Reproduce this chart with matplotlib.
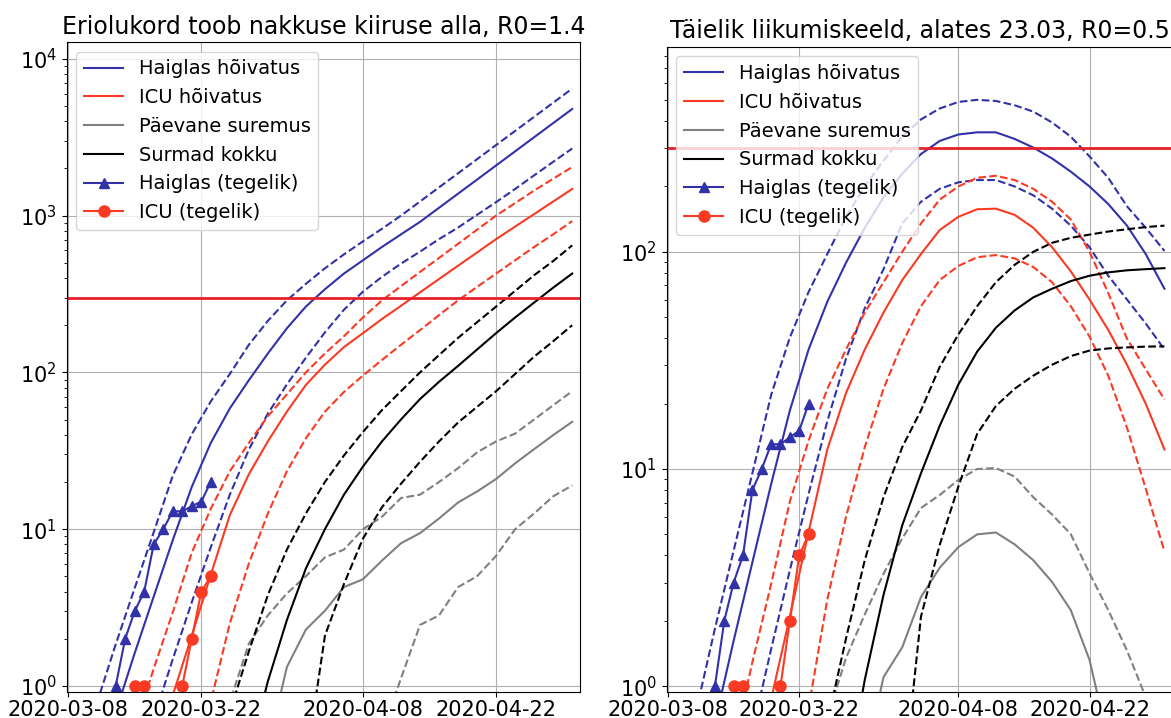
import numpy as np
import matplotlib
matplotlib.use("Agg")
import matplotlib.pyplot as plt
import matplotlib.dates as mdates
from datetime import datetime

# model output dates (every second day, shared by all model curves)
model_dates = np.array(['2020-03-11', '2020-03-13', '2020-03-15', '2020-03-17', '2020-03-19',
                        '2020-03-21', '2020-03-23', '2020-03-25', '2020-03-27', '2020-03-29',
                        '2020-03-31', '2020-04-02', '2020-04-04', '2020-04-06', '2020-04-08',
                        '2020-04-10', '2020-04-12', '2020-04-14', '2020-04-16', '2020-04-18',
                        '2020-04-20', '2020-04-22', '2020-04-24', '2020-04-26', '2020-04-28',
                        '2020-04-30'], dtype='datetime64[D]')

# --- left panel: R0=1.4 ---
hosp_mid_a = [0.28, 0.68, 1.62, 3.72, 8.51, 18.6, 35.5, 58.9, 89.1, 132, 191, 263, 339, 427, 519, 631,
              759, 912, 1122, 1380, 1698, 2089, 2570, 3162, 3890, 4786]
hosp_hi_a = [0.77, 1.84, 4.21, 9.57, 21.9, 40.3, 65.3, 97.7, 150, 213, 288, 367, 461, 566, 685, 824,
             1000, 1230, 1514, 1862, 2291, 2818, 3467, 4266, 5248, 6457]
hosp_lo_a = [0.03, 0.11, 0.26, 0.62, 1.48, 3.42, 7.67, 16.6, 32.2, 54.6, 83.8, 124, 180, 251, 327, 407,
             494, 589, 708, 839, 1012, 1219, 1479, 1807, 2203, 2679]
icu_mid_a = [0.025, 0.063, 0.148, 0.355, 0.871, 2.09, 5.13, 12.3, 22.4, 36.3, 56.2, 83.2, 112, 145, 178,
             219, 266, 324, 394, 479, 582, 708, 851, 1023, 1230, 1479]
icu_hi_a = [0.063, 0.224, 0.537, 1.29, 2.95, 7.08, 13.5, 23.4, 35.5, 52.5, 72.4, 100, 132, 170, 224, 288,
            355, 437, 537, 661, 813, 1000, 1202, 1445, 1718, 2042]
icu_lo_a = [0.01, 0.01, 0.01, 0.01, 0.01, 0.251, 0.794, 2.51, 6.03, 12.6, 23.4, 38.0, 56.2, 75.0, 95.5,
            120, 150, 186, 232, 288, 351, 427, 519, 631, 759, 923]
daily_mid_a = [0.001, 0.001, 0.001, 0.001, 0.001, 0.001, 0.001, 0.01, 0.1, 0.4, 1.32, 2.29, 3.02, 4.27,
               4.79, 6.31, 8.13, 9.44, 11.7, 14.8, 17.4, 20.9, 26.3, 32.4, 39.8, 48.4]
daily_hi_a = [0.001, 0.001, 0.001, 0.01, 0.1, 0.2, 0.32, 0.79, 1.86, 2.82, 3.89, 5.01, 6.61, 7.41, 10, 12,
              15.8, 16.6, 20, 24.5, 30.9, 36.3, 40.7, 50.1, 61.7, 75.9]
daily_lo_a = [0.001, 0.001, 0.001, 0.001, 0.001, 0.001, 0.001, 0.001, 0.001, 0.001, 0.001, 0.001, 0.001,
              0.001, 0.01, 0.5, 1.12, 2.45, 2.82, 4.27, 5.01, 6.76, 10, 12.6, 16.2, 19]
deaths_mid_a = [0.001, 0.001, 0.001, 0.001, 0.001, 0.001, 0.01, 0.126, 0.355, 1.07, 2.63, 5.62, 10, 16.6,
                25.1, 36.3, 50.1, 67.6, 87.1, 110, 140, 178, 224, 279, 347, 427]
deaths_hi_a = [0.001, 0.001, 0.001, 0.001, 0.001, 0.01, 0.25, 0.68, 1.66, 3.8, 7.41, 12.6, 20, 29.5, 41.7,
               57.5, 75.9, 100, 129, 166, 209, 263, 331, 417, 513, 646]
deaths_lo_a = [0.001, 0.001, 0.001, 0.001, 0.001, 0.001, 0.001, 0.001, 0.001, 0.001, 0.01, 0.316, 2.09,
               4.47, 8.71, 13.8, 19.5, 26.9, 36.3, 47.9, 60.3, 75.9, 97.7, 126, 158, 200]

# --- right panel: lockdown from 23.03, R0=0.5 ---
hosp_mid_b = [0.28, 0.68, 1.62, 3.72, 8.51, 18.6, 35.5, 58.9, 89.1, 129, 178, 229, 282, 324, 347, 355,
              355, 331, 302, 269, 234, 200, 166, 132, 97.7, 67.6]
hosp_hi_b = [0.77, 1.84, 4.21, 9.57, 21.9, 40.3, 65.3, 97.7, 145, 200, 263, 339, 407, 457, 490, 501,
             495, 473, 442, 394, 339, 275, 219, 162, 129, 101]
hosp_lo_b = [0.03, 0.11, 0.26, 0.62, 1.48, 3.42, 7.67, 16.6, 32.2, 55, 83.2, 135, 170, 195, 209, 214,
             214, 200, 182, 158, 132, 105, 77.6, 60.3, 46.8, 35.5]
icu_mid_b = [0.025, 0.063, 0.148, 0.355, 0.871, 2.09, 5.13, 12.3, 22.4, 35.5, 52.5, 74.1, 97.7, 126, 145,
             157, 158, 148, 129, 105, 81.3, 60.3, 43.7, 30.2, 20, 12.3]
icu_hi_b = [0.063, 0.224, 0.537, 1.29, 2.95, 7.08, 13.5, 23.4, 35.5, 52.5, 72.4, 100, 135, 174, 200, 219,
            224, 214, 195, 170, 141, 100, 64.6, 39.8, 28.8, 20.9]
icu_lo_b = [0.01, 0.01, 0.01, 0.01, 0.01, 0.251, 0.794, 2.51, 6.03, 12.6, 23.4, 38.0, 56.2, 74.1, 86.1,
            94.4, 96.6, 93.3, 85.1, 72.4, 56.2, 40.7, 26.9, 15.5, 8.13, 4.17]
daily_mid_b = [0.001, 0.001, 0.001, 0.001, 0.001, 0.001, 0.001, 0.01, 0.1, 0.447, 1.1, 1.51, 2.57, 3.51,
               4.37, 5.0, 5.1, 4.5, 3.8, 3.02, 2.24, 1.32, 0.56, 0.2, 0.063, 0.032]
daily_hi_b = [0.001, 0.001, 0.001, 0.01, 0.1, 0.2, 0.32, 0.71, 1.35, 2.14, 3.29, 4.79, 6.61, 7.59, 8.91,
              10, 10.1, 9.23, 7.41, 6.17, 5.01, 3.31, 2.24, 1.46, 0.89, 0.4]
deaths_mid_b = [0.001, 0.001, 0.001, 0.001, 0.001, 0.001, 0.01, 0.126, 0.355, 1.07, 2.63, 5.5, 9.55, 15.8,
                24.5, 34.7, 44.7, 53.7, 61.7, 67.6, 73.3, 77.6, 80.4, 82.2, 83.2, 84.1]
deaths_hi_b = [0.001, 0.001, 0.001, 0.001, 0.001, 0.01, 0.25, 0.68, 1.66, 3.8, 7.41, 12.6, 18.6, 29.5,
               41.7, 56.2, 72.4, 87.1, 100, 110, 116, 120, 124, 127, 130, 132]
deaths_lo_b = [0.001, 0.001, 0.001, 0.001, 0.001, 0.001, 0.001, 0.001, 0.001, 0.001, 0.01, 0.316, 2.09,
               4.47, 8.32, 14.5, 19.5, 23.4, 26.9, 30.2, 33.1, 35.1, 35.9, 36.3, 36.6, 36.7]

# actual counts
hosp_dates = np.array(['2020-03-13', '2020-03-14', '2020-03-15', '2020-03-16', '2020-03-17', '2020-03-18',
                       '2020-03-19', '2020-03-20', '2020-03-21', '2020-03-22', '2020-03-23'], dtype='datetime64[D]')
hosp_actual = [1, 2, 3, 4, 8, 10, 13, 13, 14, 15, 20]
icu_dates = np.array(['2020-03-15', '2020-03-16', '2020-03-17', '2020-03-18', '2020-03-19',
                      '2020-03-20', '2020-03-21', '2020-03-22', '2020-03-23'], dtype='datetime64[D]')
icu_actual = [1, 1, 0, 0, 0, 1, 2, 4, 5]

icu_capacity = 300
tick_dates = [datetime(2020, 3, 8), datetime(2020, 3, 22), datetime(2020, 4, 8), datetime(2020, 4, 22)]

BLUE = '#3232a8'
RED = '#fa3a22'
GRAY = 'gray'
LW = 1.5

plt.rcParams['font.family'] = 'DejaVu Sans'

fig = plt.figure(figsize=(11.71, 7.18), dpi=100)
ax1 = fig.add_axes([66.7 / 1171, 26 / 718, 513.6 / 1171, 650 / 718])
ax2 = fig.add_axes([666.7 / 1171, 26 / 718, 505.7 / 1171, 645.3 / 718])


def draw(ax, hosp, icu, daily, deaths, title, ylim):
    ax.set_yscale('log')
    ax.plot(model_dates, hosp[0], color=BLUE, lw=LW, label='Haiglas hõivatus')
    ax.plot(model_dates, hosp[1], color=BLUE, lw=LW, ls='--')
    ax.plot(model_dates, hosp[2], color=BLUE, lw=LW, ls='--')
    ax.plot(model_dates, icu[0], color=RED, lw=LW, label='ICU hõivatus')
    ax.plot(model_dates, icu[1], color=RED, lw=LW, ls='--')
    ax.plot(model_dates, icu[2], color=RED, lw=LW, ls='--')
    ax.plot(model_dates, daily[0], color=GRAY, lw=LW, label='Päevane suremus')
    for d in daily[1:]:
        ax.plot(model_dates, d, color=GRAY, lw=LW, ls='--')
    ax.plot(model_dates, deaths[0], color='black', lw=LW, label='Surmad kokku')
    ax.plot(model_dates, deaths[1], color='black', lw=LW, ls='--')
    ax.plot(model_dates, deaths[2], color='black', lw=LW, ls='--')
    ax.plot(hosp_dates, hosp_actual, color=BLUE, lw=LW, marker='^', ms=7, label='Haiglas (tegelik)')
    ax.plot(icu_dates, icu_actual, color=RED, lw=LW, marker='o', ms=8, label='ICU (tegelik)')
    ax.axhline(icu_capacity, color='#e8202a', lw=2)

    ax.set_ylim(ylim)
    ax.set_xlim(datetime(2020, 3, 7, 20, 24), datetime(2020, 4, 30, 20, 24))
    ax.set_xticks(tick_dates)
    ax.xaxis.set_major_formatter(mdates.DateFormatter('%Y-%m-%d'))
    ax.grid(True, which='major')
    ax.tick_params(labelsize=15)
    ax.tick_params(axis='x', pad=2)
    ax.set_title(title, fontsize=17)
    ax.legend(loc='upper left', fontsize=14, labelspacing=0.5)


draw(ax1, [hosp_mid_a, hosp_hi_a, hosp_lo_a], [icu_mid_a, icu_hi_a, icu_lo_a],
     [daily_mid_a, daily_hi_a, daily_lo_a], [deaths_mid_a, deaths_hi_a, deaths_lo_a],
     'Eriolukord toob nakkuse kiiruse alla, R0=1.4', (0.915, 12800))
draw(ax2, [hosp_mid_b, hosp_hi_b, hosp_lo_b], [icu_mid_b, icu_hi_b, icu_lo_b],
     [daily_mid_b, daily_hi_b], [deaths_mid_b, deaths_hi_b, deaths_lo_b],
     'Täielik liikumiskeeld, alates 23.03, R0=0.5', (0.94, 880))

fig.savefig('out.png', dpi=100)
